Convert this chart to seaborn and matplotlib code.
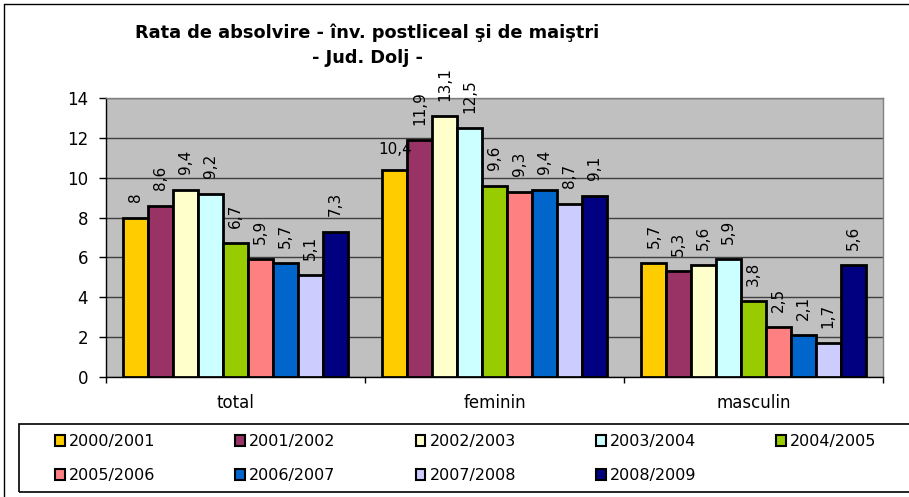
import matplotlib
matplotlib.use("Agg")
import matplotlib.pyplot as plt
import matplotlib.patches as mpatches
import matplotlib.lines as mlines
import pandas as pd
import seaborn as sns

categories = ["total", "feminin", "masculin"]
years = ["2000/2001", "2001/2002", "2002/2003", "2003/2004", "2004/2005",
         "2005/2006", "2006/2007", "2007/2008", "2008/2009"]
values = {
    "2000/2001": [8.0, 10.4, 5.7],
    "2001/2002": [8.6, 11.9, 5.3],
    "2002/2003": [9.4, 13.1, 5.6],
    "2003/2004": [9.2, 12.5, 5.9],
    "2004/2005": [6.7, 9.6, 3.8],
    "2005/2006": [5.9, 9.3, 2.5],
    "2006/2007": [5.7, 9.4, 2.1],
    "2007/2008": [5.1, 8.7, 1.7],
    "2008/2009": [7.3, 9.1, 5.6],
}
colors = ["#FFCC00", "#993366", "#FFFFCC", "#CCFFFF", "#99CC00",
          "#FF8080", "#0066CC", "#CCCCFF", "#000080"]
yticks = [0, 2, 4, 6, 8, 10, 12, 14]

rows = []
for y in years:
    for c, v in zip(categories, values[y]):
        rows.append({"categorie": c, "an": y, "rata": v})
df = pd.DataFrame(rows)

sns.set_style("white")
plt.rcParams["font.family"] = ["DejaVu Sans"]
plt.rcParams["text.color"] = "black"
plt.rcParams["xtick.color"] = "black"
plt.rcParams["ytick.color"] = "black"
plt.rcParams["xtick.labelcolor"] = "black"
plt.rcParams["ytick.labelcolor"] = "black"

W, H = 909, 497
fig = plt.figure(figsize=(W / 100, H / 100), dpi=100)
ax = fig.add_axes([106 / W, 1 - 377 / H, (883 - 106) / W, (377 - 98) / H])
ax.set_facecolor("#C0C0C0")

sns.barplot(data=df, x="categorie", y="rata", hue="an", order=categories,
            hue_order=years, palette=colors, width=0.865, edgecolor="black",
            linewidth=2, saturation=1, ax=ax, legend=False, zorder=3)

ax.set_ylim(0, 14)
ax.set_xlim(-0.5, 2.5)
ax.set_yticks(yticks)
ax.set_yticklabels([str(t) for t in yticks], fontsize=12)
ax.yaxis.grid(True, color="#404040", linewidth=1, zorder=0)
ax.set_axisbelow(True)
ax.set_xlabel("")
ax.set_ylabel("")
ax.tick_params(axis="x", length=0, labelsize=12, pad=12)
ax.tick_params(axis="y", length=5, width=1, color="black", left=True, pad=8)
ax.set_xticks([-0.5, 0.5, 1.5, 2.5], minor=True)
ax.tick_params(axis="x", which="minor", length=4.5, width=1, color="black", bottom=True)
for s in ["left", "bottom"]:
    ax.spines[s].set_color("black")
    ax.spines[s].set_linewidth(1)
for s in ["top", "right"]:
    ax.spines[s].set_color("#808080")
    ax.spines[s].set_linewidth(1)

# value labels
for cont, y in zip(ax.containers, years):
    for i, (bar, v) in enumerate(zip(cont, values[y])):
        txt = ("%g" % v).replace(".", ",")
        cx = bar.get_x() + bar.get_width() / 2
        if y == "2000/2001" and categories[i] == "feminin":
            ax.annotate(txt, (cx, v), xytext=(0, 9), textcoords="offset points",
                        ha="center", va="bottom", fontsize=11, annotation_clip=False)
        else:
            ax.annotate(txt, (cx, v), xytext=(0, 11), textcoords="offset points",
                        ha="center", va="bottom", rotation=90, fontsize=11,
                        annotation_clip=False)

fig.text(367 / W, 1 - 33 / H, "Rata de absolvire - înv. postliceal şi de maiştri",
         ha="center", va="center", fontsize=12.8, fontweight="bold")
fig.text(367 / W, 1 - 58 / H, "- Jud. Dolj -",
         ha="center", va="center", fontsize=12.8, fontweight="bold")

# legend, filled row by row (matplotlib fills column by column)
order = [0, 5, 1, 6, 2, 7, 3, 8, 4]
handles = [mpatches.Patch(facecolor=colors[k], edgecolor="black", linewidth=1.5,
                          label=years[k]) for k in order]
leg = fig.legend(handles=handles, ncol=5, loc="upper left",
                 bbox_to_anchor=(55 / W, 1 - 434 / H), fontsize=11.5,
                 frameon=False, handlelength=0.62, handleheight=0.62,
                 handletextpad=0.25, columnspacing=5.0, borderpad=0,
                 labelspacing=1.2, borderaxespad=0)

fig.patches.append(mpatches.Rectangle((19 / W, 1 - 492 / H), (W + 10 - 19) / W, 68 / H,
                                      transform=fig.transFigure, fill=False,
                                      edgecolor="black", linewidth=1.2))
# outer chart border (left and top visible)
fig.lines.append(mlines.Line2D([3.5 / W, 3.5 / W], [0, 1 - 3.5 / H], transform=fig.transFigure,
                               color="black", linewidth=1))
fig.lines.append(mlines.Line2D([3.5 / W, 1], [1 - 3.5 / H, 1 - 3.5 / H], transform=fig.transFigure,
                               color="black", linewidth=1))

fig.savefig("out.png", dpi=100)
